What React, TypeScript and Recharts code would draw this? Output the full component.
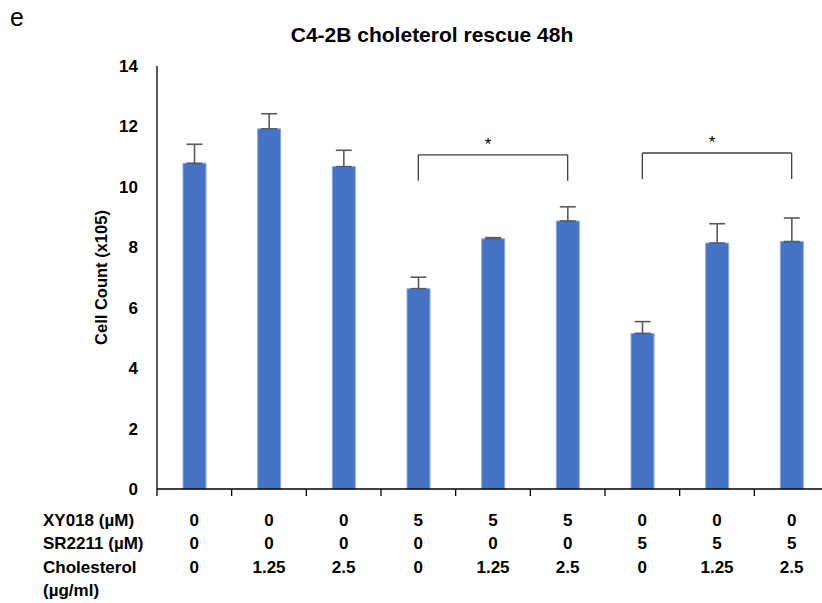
import React from 'react';
import { BarChart, Bar, XAxis, YAxis, ErrorBar, ReferenceLine } from 'recharts';

const GROUPS = ['g1', 'g2', 'g3', 'g4', 'g5', 'g6', 'g7', 'g8', 'g9'];
const XY018 = ['0', '0', '0', '5', '5', '5', '0', '0', '0'];
const SR2211 = ['0', '0', '0', '0', '0', '0', '5', '5', '5'];
const CHOLESTEROL = ['0', '1.25', '2.5', '0', '1.25', '2.5', '0', '1.25', '2.5'];
const CELL_COUNT = [10.78, 11.92, 10.67, 6.63, 8.28, 8.87, 5.15, 8.14, 8.19];
const SD = [0.63, 0.5, 0.54, 0.38, 0.04, 0.47, 0.39, 0.64, 0.78];
const Y_TICKS = [0, 2, 4, 6, 8, 10, 12, 14];
const ROW_LABELS = ['XY018 (\u00b5M)', 'SR2211 (\u00b5M)', 'Cholesterol', '(\u00b5g/ml)'];
// significance brackets: [from, to, height, leg bottom]
const BRACKETS: [string, string, number, number][] = [
  ['g4', 'g6', 11.06, 10.2],
  ['g7', 'g9', 11.12, 10.26],
];

const FONT = '"Liberation Sans", Arial, sans-serif';

const data = GROUPS.map((g, i) => ({
  group: g,
  xy: XY018[i],
  sr: SR2211[i],
  chol: CHOLESTEROL[i],
  count: CELL_COUNT[i],
  err: [0, SD[i]],
}));

const BAND = 74.7;

function GroupTick(props: any) {
  const { x, y, index } = props;
  const d = data[index];
  const rows = [d.xy, d.sr, d.chol];
  return (
    <g>
      <line x1={x - BAND / 2} x2={x - BAND / 2} y1={y} y2={y + 7} stroke="#000" strokeWidth={1.3} />
      {rows.map((r, k) => (
        <text key={k} x={x} y={y + 31 + k * 23.5} dominantBaseline="central" textAnchor="middle" fontFamily={FONT} fontWeight="bold" fontSize={17} fill="#000">
          {r}
        </text>
      ))}
      {index === 0 &&
        ROW_LABELS.map((r, k) => (
          <text key={'l' + k} x={43} y={y + 31 + k * 23.5} dominantBaseline="central" textAnchor="start" fontFamily={FONT} fontWeight="bold" fontSize={17} fill="#000">
            {r}
          </text>
        ))}
    </g>
  );
}

export default function App() {
  return (
    <div style={{ position: 'absolute', left: 0, top: 0, width: 822, height: 603, overflow: 'hidden', background: '#fff' }}>
      <div style={{ position: 'absolute', left: 10, top: 3, fontFamily: FONT, fontSize: 25, color: '#000' }}>e</div>
      <div
        style={{
          position: 'absolute',
          left: 232,
          width: 400,
          top: 23,
          textAlign: 'center',
          fontFamily: FONT,
          fontWeight: 'bold',
          fontSize: 21,
          color: '#000',
        }}
      >
        C4-2B choleterol rescue 48h
      </div>
      <BarChart
        width={840}
        height={603}
        data={data}
        margin={{ top: 66, right: 11, left: 107, bottom: 0 }}
        barCategoryGap={0}
      >
        <XAxis
          dataKey="group"
          height={114}
          tick={<GroupTick />}
          tickLine={false}
          tickSize={0}
          tickMargin={0}
          interval={0}
          axisLine={{ stroke: '#000', strokeWidth: 1.3 }}
        />
        <YAxis
          domain={[0, 14]}
          ticks={Y_TICKS}
          width={50}
          tickLine={false}
          tickSize={0}
          tickMargin={19}
          axisLine={{ stroke: '#000', strokeWidth: 1.3 }}
          tick={{ fill: '#000', fontFamily: FONT, fontWeight: 'bold', fontSize: 17 }}
          label={{
            content: ({ viewBox }: any) => {
              const cx = viewBox.x - 6;
              const cy = viewBox.y + viewBox.height / 2;
              return (
                <text
                  x={cx}
                  y={cy}
                  transform={`rotate(-90 ${cx} ${cy})`}
                  textAnchor="middle"
                  dominantBaseline="central"
                  fontFamily={FONT}
                  fontWeight="bold"
                  fontSize={16.5}
                  fill="#000"
                >
                  Cell Count (x105)
                </text>
              );
            },
          }}
        />
        <Bar dataKey="count" barSize={23} fill="#4472C4" stroke="#8FAADC" strokeWidth={1} isAnimationActive={false}>
          <ErrorBar dataKey="err" width={8} stroke="#595959" strokeWidth={1.6} direction="y" />
        </Bar>
        {BRACKETS.map(([a, b, h, low], i) => (
          <React.Fragment key={i}>
            <ReferenceLine segment={[{ x: a, y: h }, { x: b, y: h }]} stroke="#404040" strokeWidth={1.3} ifOverflow="visible" />
            <ReferenceLine segment={[{ x: a, y: h }, { x: a, y: low }]} stroke="#404040" strokeWidth={1.3} ifOverflow="visible" />
            <ReferenceLine segment={[{ x: b, y: h }, { x: b, y: low }]} stroke="#404040" strokeWidth={1.3} ifOverflow="visible" />
            <ReferenceLine
              segment={[{ x: GROUPS[GROUPS.indexOf(a) + 1], y: h }, { x: GROUPS[GROUPS.indexOf(a) + 1], y: h }]}
              stroke="none"
              ifOverflow="visible"
              label={{ value: '*', position: 'top', offset: 5, dx: -5, fill: '#000', fontSize: 17, fontFamily: FONT }}
            />
          </React.Fragment>
        ))}
      </BarChart>
    </div>
  );
}
